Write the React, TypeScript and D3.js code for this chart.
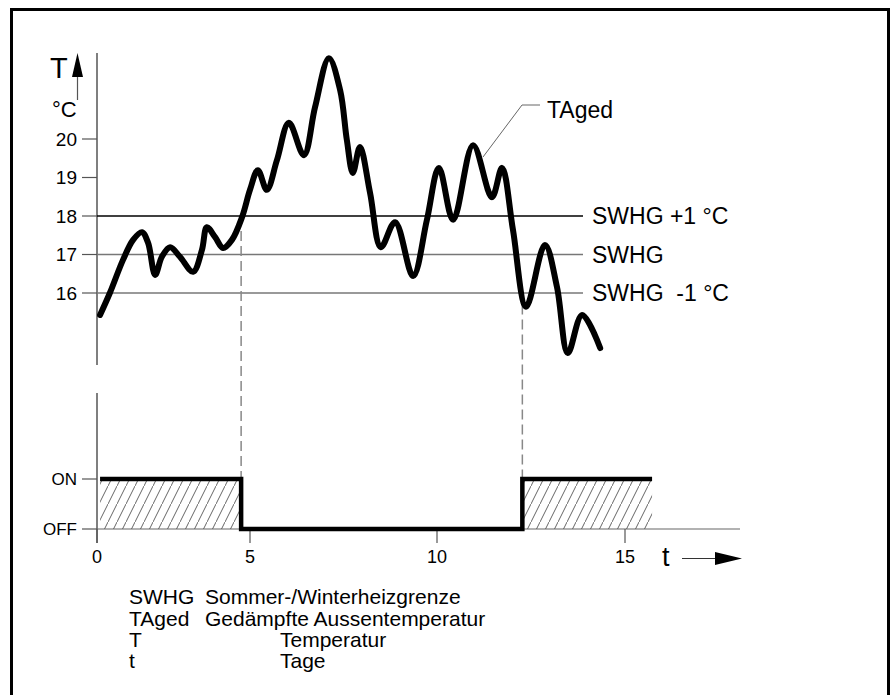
import React, { useRef, useEffect } from 'react';
import * as d3 from 'd3';

// Gedämpfte Aussentemperatur (Tage, °C)
const tagedDays = [0.1, 0.42, 0.85, 1.18, 1.47, 1.67, 1.9, 2.12, 2.39, 2.71, 3.14, 3.43, 3.59, 3.86, 4.12, 4.41, 4.74, 5.0, 5.21, 5.45, 5.72, 6.04, 6.44, 6.74, 7.11, 7.41, 7.59, 7.75, 7.94, 8.21, 8.5, 8.88, 9.36, 9.73, 10.05, 10.43, 10.96, 11.46, 11.73, 12.02, 12.37, 12.87, 13.19, 13.48, 13.86, 14.34];
const tagedTemps = [15.43, 16.0, 16.86, 17.38, 17.58, 17.3, 16.47, 16.94, 17.19, 16.94, 16.55, 17.12, 17.71, 17.45, 17.17, 17.38, 17.97, 18.68, 19.19, 18.68, 19.45, 20.42, 19.58, 20.83, 22.1, 21.27, 19.97, 19.12, 19.79, 18.6, 17.19, 17.84, 16.44, 17.9, 19.25, 17.9, 19.84, 18.49, 19.25, 17.64, 15.64, 17.25, 16.16, 14.44, 15.43, 14.57];

// Heizung EIN/AUS
const switchDays = [0.1, 4.71, 12.27, 15.72];
const switchStates = [1, 0, 1];
const switchTemps = [18, 15.7]; // wo die gestrichelten Linien die Kurve treffen

const tempTicks = [16, 17, 18, 19, 20];
const dayTicks = [0, 5, 10, 15];
const stateLabels = ['OFF', 'ON'];

const thresholds = [
  { value: 18, label: 'SWHG +1 °C', color: '#000' },
  { value: 17, label: 'SWHG', color: '#777' },
  { value: 16, label: 'SWHG\u00a0 -1 °C', color: '#777' },
];

const legendKeys = ['SWHG', 'TAged', 'T', 't'];
const legendTexts = ['Sommer-/Winterheizgrenze', 'Gedämpfte Aussentemperatur', 'Temperatur', 'Tage'];

const W = 892;
const H = 695;

const App = () => {
  const svgRef = useRef<SVGSVGElement | null>(null);

  useEffect(() => {
    const svg = d3.select(svgRef.current);
    svg.selectAll('*').remove();

    const font = '"Liberation Sans", Arial, sans-serif';

    // Zeitachse ist in der Vorlage nicht ganz linear
    const x = d3.scaleLinear().domain([0, 5, 10, 15]).range([97, 250, 437, 625]);
    const y = d3.scaleLinear().domain([16, 20]).range([293, 139]);
    const yState = d3.scaleLinear().domain([0, 1]).range([529, 479]);

    // Rahmen
    svg.append('rect')
      .attr('x', 11.5).attr('y', 9.5)
      .attr('width', 877).attr('height', 720)
      .attr('fill', 'none').attr('stroke', '#000').attr('stroke-width', 3);

    // Schraffur
    const defs = svg.append('defs');
    const pat = defs.append('pattern')
      .attr('id', 'hatch')
      .attr('patternUnits', 'userSpaceOnUse')
      .attr('width', 9).attr('height', 18);
    pat.append('path')
      .attr('d', 'M-1,20 L10,-2')
      .attr('stroke', '#555').attr('stroke-width', 0.9);

    const g = svg.append('g').style('font-family', font);

    // --- oberes Diagramm ---
    g.append('line')
      .attr('x1', 97).attr('x2', 97).attr('y1', 53).attr('y2', 365)
      .attr('stroke', '#555').attr('stroke-width', 1.5);

    tempTicks.forEach(v => {
      g.append('line')
        .attr('x1', 82).attr('x2', 97).attr('y1', y(v)).attr('y2', y(v))
        .attr('stroke', '#555').attr('stroke-width', 1.2);
      g.append('text')
        .attr('x', 77).attr('y', y(v))
        .attr('dy', '0.35em').attr('text-anchor', 'end')
        .attr('font-size', 19)
        .text(v);
    });

    // T-Pfeil
    g.append('line')
      .attr('x1', 77.5).attr('x2', 77.5).attr('y1', 100).attr('y2', 74)
      .attr('stroke', '#555').attr('stroke-width', 1.2);
    g.append('path')
      .attr('d', 'M77.5,53 L83,77 L72,77 Z')
      .attr('fill', '#000');
    g.append('text')
      .attr('x', 50).attr('y', 78)
      .attr('font-size', 29)
      .text('T');
    g.append('text')
      .attr('x', 52).attr('y', 117)
      .attr('font-size', 22)
      .text('°C');

    // Grenzlinien
    thresholds.forEach(t => {
      g.append('line')
        .attr('x1', 97).attr('x2', 583).attr('y1', y(t.value)).attr('y2', y(t.value))
        .attr('stroke', t.color).attr('stroke-width', 1.3);
      g.append('text')
        .attr('x', 592).attr('y', y(t.value))
        .attr('dy', '0.35em')
        .attr('font-size', 23)
        .text(t.label);
    });

    // gestrichelte Schaltlinien
    [switchDays[1], switchDays[2]].forEach((d, i) => {
      g.append('line')
        .attr('x1', x(d)).attr('x2', x(d))
        .attr('y1', y(switchTemps[i])).attr('y2', yState(1))
        .attr('stroke', '#888').attr('stroke-width', 1.5)
        .attr('stroke-dasharray', '10,5');
    });

    // Kurve TAged
    const pts: [number, number][] = tagedDays.map((d, i) => [d, tagedTemps[i]]);
    const line = d3.line<[number, number]>()
      .x(d => x(d[0]))
      .y(d => y(d[1]))
      .curve(d3.curveCatmullRom.alpha(0.5));
    g.append('path')
      .datum(pts)
      .attr('fill', 'none')
      .attr('stroke', '#000')
      .attr('stroke-width', 6)
      .attr('stroke-linejoin', 'round')
      .attr('stroke-linecap', 'round')
      .attr('d', line);

    // Beschriftung TAged
    g.append('path')
      .attr('d', 'M483,157 L522,105 L540,105')
      .attr('fill', 'none').attr('stroke', '#666').attr('stroke-width', 1);
    g.append('text')
      .attr('x', 547).attr('y', 110)
      .attr('dy', '0.35em')
      .attr('font-size', 23)
      .text('TAged');

    // --- unteres Diagramm ---
    g.append('line')
      .attr('x1', 97).attr('x2', 97).attr('y1', 393).attr('y2', 543)
      .attr('stroke', '#555').attr('stroke-width', 1.5);
    g.append('line')
      .attr('x1', 97).attr('x2', x(18.06)).attr('y1', yState(0)).attr('y2', yState(0))
      .attr('stroke', '#666').attr('stroke-width', 1.2);

    stateLabels.forEach((s, i) => {
      g.append('line')
        .attr('x1', 82).attr('x2', 97).attr('y1', yState(i)).attr('y2', yState(i))
        .attr('stroke', '#555').attr('stroke-width', 1.2);
      g.append('text')
        .attr('x', 77).attr('y', yState(i))
        .attr('dy', '0.35em').attr('text-anchor', 'end')
        .attr('font-size', 17)
        .text(s);
    });

    dayTicks.forEach(d => {
      g.append('line')
        .attr('x1', x(d)).attr('x2', x(d)).attr('y1', yState(0)).attr('y2', 543)
        .attr('stroke', '#555').attr('stroke-width', 1.2);
      g.append('text')
        .attr('x', x(d)).attr('y', 557)
        .attr('dy', '0.35em').attr('text-anchor', 'middle')
        .attr('font-size', 18)
        .text(d);
    });

    // schraffierte EIN-Bereiche
    switchStates.forEach((s, i) => {
      if (!s) return;
      g.append('rect')
        .attr('x', x(switchDays[i]))
        .attr('y', yState(1))
        .attr('width', x(switchDays[i + 1]) - x(switchDays[i]))
        .attr('height', yState(0) - yState(1))
        .attr('fill', 'url(#hatch)');
    });

    const stepPts: [number, number][] = switchDays.map((d, i) => [d, switchStates[Math.min(i, switchStates.length - 1)]]);
    const step = d3.line<[number, number]>()
      .x(d => x(d[0]))
      .y(d => yState(d[1]))
      .curve(d3.curveStepAfter);
    g.append('path')
      .datum(stepPts)
      .attr('fill', 'none')
      .attr('stroke', '#000')
      .attr('stroke-width', 4.5)
      .attr('stroke-linejoin', 'miter')
      .attr('d', step);

    // t-Pfeil
    g.append('text')
      .attr('x', 662).attr('y', 557)
      .attr('dy', '0.35em')
      .attr('font-size', 27)
      .text('t');
    g.append('line')
      .attr('x1', 682).attr('x2', 716).attr('y1', 558.5).attr('y2', 558.5)
      .attr('stroke', '#333').attr('stroke-width', 1.2);
    g.append('path')
      .attr('d', 'M742,558.5 L715,552 L715,565 Z')
      .attr('fill', '#000');

    // Legende
    legendKeys.forEach((k, i) => {
      const ly = 597 + i * 21.3;
      g.append('text')
        .attr('x', 129).attr('y', ly)
        .attr('dy', '0.35em')
        .attr('font-size', 21)
        .text(k);
      g.append('text')
        .attr('x', i < 2 ? 205 : 280).attr('y', ly)
        .attr('dy', '0.35em')
        .attr('font-size', 21)
        .text(legendTexts[i]);
    });
  }, []);

  return (
    <svg
      ref={svgRef}
      width={W}
      height={H}
      style={{ position: 'absolute', left: 0, top: 0, background: '#fff' }}
    />
  );
};

export default App;
